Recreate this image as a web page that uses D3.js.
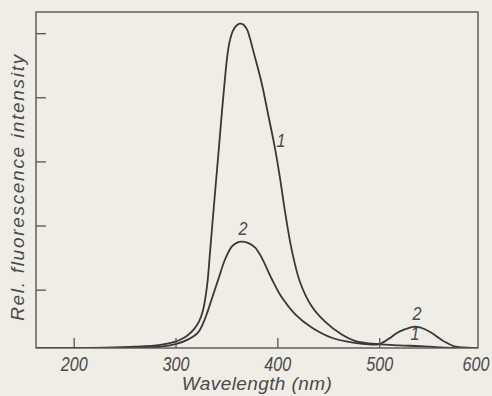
<!DOCTYPE html>
<html>
<head>
<meta charset="utf-8">
<script src="https://cdn.jsdelivr.net/npm/d3@7"></script>
<style>
  html, body { margin: 0; padding: 0; background: #efede6; }
  svg { display: block; }
  .lbl { font-family: "Liberation Sans", Arial, sans-serif; font-style: italic; fill: #4a4a4a; }
  .num { font-family: "Liberation Sans", Arial, sans-serif; font-style: italic; fill: #4a4a4a; }
</style>
</head>
<body>
<div id="chart"></div>
<script>
// spectra
const wavelength1 = [163, 200, 230, 260, 285, 300, 306, 312, 318, 323, 327, 330.9, 333.9, 336.8, 339.7, 342.7, 345.6, 348.6, 350.5, 353, 356.4, 359.9, 363.3, 366.8, 370.2, 373.1, 376.4, 384.6, 391.1, 397.7, 402.6, 407.5, 414.1, 422.2, 433.7, 446.8, 463.2, 476.2, 490, 500, 520, 540, 560, 580, 597];
const intensity1 = [0.09, 0.09, 0.095, 0.11, 0.14, 0.19, 0.23, 0.29, 0.38, 0.50, 0.68, 1.05, 1.59, 2.14, 2.68, 3.23, 3.78, 4.30, 4.60, 4.86, 5.04, 5.12, 5.15, 5.13, 5.06, 4.92, 4.72, 4.22, 3.72, 3.20, 2.74, 2.22, 1.62, 1.12, 0.74, 0.50, 0.30, 0.20, 0.16, 0.15, 0.13, 0.12, 0.10, 0.09, 0.09];

const wavelength2 = [163, 200, 230, 260, 285, 300, 312, 322, 329, 335.5, 342, 348.6, 355.2, 360, 365, 371, 378, 384.6, 394.4, 404.3, 417.3, 433.7, 453.4, 476.2, 490, 500, 510, 517, 525, 533.5, 540, 550, 563, 573, 586, 597];
const intensity2 = [0.09, 0.09, 0.09, 0.095, 0.11, 0.15, 0.22, 0.33, 0.55, 0.85, 1.16, 1.47, 1.67, 1.73, 1.75, 1.73, 1.66, 1.50, 1.17, 0.88, 0.62, 0.41, 0.25, 0.17, 0.145, 0.15, 0.24, 0.32, 0.38, 0.42, 0.41, 0.34, 0.20, 0.12, 0.095, 0.09];

const xTicks = [200, 300, 400, 500, 600];
const yTicks = [1, 2, 3, 4, 5];

// curve labels: [text, wavelength, intensity]
const curveLabels = [
  ["1", 403.6, 3.22],
  ["2", 366.3, 1.85],
  ["2", 537.1, 0.527],
  ["1", 535.2, 0.215]
];

const width = 492, height = 396;
const plotL = 36, plotT = 12, plotR = 478, plotB = 348;

const svg = d3.select("#chart").append("svg")
    .attr("width", width)
    .attr("height", height);

const x = d3.scaleLinear().domain([163, 597]).range([plotL, plotR]);
const y = d3.scaleLinear().domain([0.09, 5.33]).range([plotB, plotT]);

svg.append("clipPath").attr("id", "clip")
  .append("rect").attr("x", plotL).attr("y", plotT).attr("width", plotR - plotL).attr("height", plotB - plotT);

const line = d3.line()
    .x(d => x(d[0]))
    .y(d => y(d[1]))
    .curve(d3.curveCatmullRom.alpha(0.5));

const g = svg.append("g").attr("clip-path", "url(#clip)");
[d3.zip(wavelength1, intensity1), d3.zip(wavelength2, intensity2)].forEach(series => {
  g.append("path")
    .datum(series)
    .attr("fill", "none")
    .attr("stroke", "#383838")
    .attr("stroke-width", 1.8)
    .attr("stroke-linejoin", "round")
    .attr("d", line);
});

// x axis, ticks pointing inward
const xAxis = svg.append("g")
    .attr("transform", `translate(0,${plotB})`)
    .call(d3.axisBottom(x).tickValues(xTicks).tickSizeInner(-10).tickSizeOuter(0).tickPadding(9));
xAxis.select(".domain").remove();
xAxis.selectAll(".tick line").attr("stroke", "#555").attr("stroke-width", 1.3)
  .filter(d => d === 600).remove();
xAxis.selectAll(".tick text")
    .attr("class", "num")
    .attr("font-size", 20)
    .attr("fill", "#4a4a4a")
    .attr("textLength", 27)
    .attr("lengthAdjust", "spacingAndGlyphs");
// last label sits against the page edge
xAxis.selectAll(".tick").filter(d => d === 600).select("text")
    .attr("text-anchor", "end")
    .attr("x", width - 3 - x(600));

const yAxis = svg.append("g")
    .attr("transform", `translate(${plotL},0)`)
    .call(d3.axisLeft(y).tickValues(yTicks).tickSizeInner(-10).tickSizeOuter(0).tickFormat(""));
yAxis.select(".domain").remove();
yAxis.selectAll(".tick line").attr("stroke", "#555").attr("stroke-width", 1.3);

// frame
svg.append("rect")
    .attr("x", plotL).attr("y", plotT)
    .attr("width", plotR - plotL).attr("height", plotB - plotT)
    .attr("fill", "none")
    .attr("stroke", "#555")
    .attr("stroke-width", 1.4);

svg.selectAll(".curve-label")
  .data(curveLabels)
  .enter().append("text")
    .attr("class", "num")
    .attr("font-size", 18)
    .attr("text-anchor", "middle")
    .attr("x", d => x(d[1]))
    .attr("y", d => y(d[2]))
    .attr("textLength", 9)
    .attr("lengthAdjust", "spacingAndGlyphs")
    .text(d => d[0]);

svg.append("text")
    .attr("class", "lbl")
    .attr("font-size", 19)
    .attr("letter-spacing", 0.4)
    .attr("text-anchor", "middle")
    .attr("x", 257)
    .attr("y", 390)
    .text("Wavelength (nm)");

svg.append("text")
    .attr("class", "lbl")
    .attr("font-size", 19)
    .attr("letter-spacing", 1.7)
    .attr("text-anchor", "middle")
    .attr("transform", "translate(24,187) rotate(-90)")
    .text("Rel. fluorescence intensity");
</script>
</body>
</html>
